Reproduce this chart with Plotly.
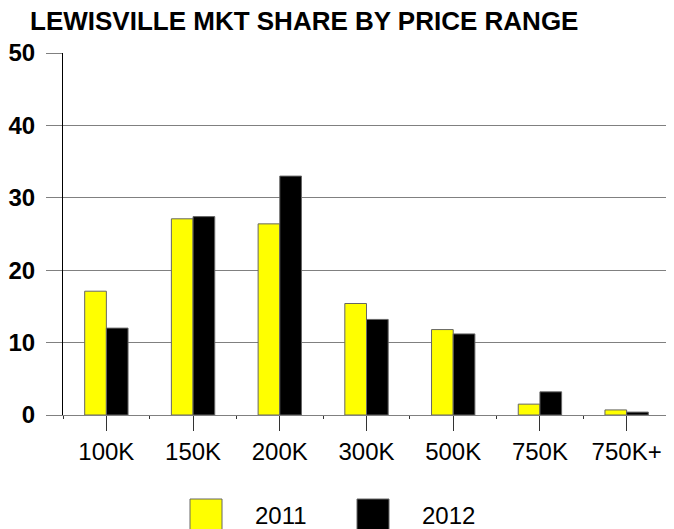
import plotly.graph_objects as go

categories = ["100K", "150K", "200K", "300K", "500K", "750K", "750K+"]
share_2011 = [17.1, 27.1, 26.4, 15.4, 11.8, 1.5, 0.7]
share_2012 = [12.0, 27.4, 33.0, 13.2, 11.2, 3.2, 0.4]
series_names = ["2011", "2012"]
y_ticks = [0, 10, 20, 30, 40, 50]

# page body has an 8px margin, so the figure is drawn 8px in from the window corner
OFF = 8
W, H = 674 - OFF, 529 - OFF
L, R, T, B = 63 - OFF, 4, 53 - OFF, 114
pw, ph = W - L - R, H - T - B


def px(x):
    # window pixel -> paper x
    return (x - OFF - L) / pw


def py(y):
    # window pixel -> paper y
    return (H - B - (y - OFF)) / ph


FONT = "Liberation Sans, Arial, sans-serif"

fig = go.Figure()
fig.add_trace(go.Bar(x=categories, y=share_2011, name=series_names[0],
                     marker=dict(color="#ffff00", line=dict(color="#666", width=1)),
                     showlegend=False))
fig.add_trace(go.Bar(x=categories, y=share_2012, name=series_names[1],
                     marker=dict(color="#000000", line=dict(color="#666", width=1)),
                     showlegend=False))
# invisible helper trace so the boundary (minor) ticks axis is drawn
fig.add_trace(go.Scatter(x=categories, y=share_2011, mode="none", xaxis="x2",
                         showlegend=False, hoverinfo="skip"))

fig.update_layout(
    width=W, height=H,
    margin=dict(l=L, r=R, t=T, b=B, autoexpand=False),
    paper_bgcolor="white", plot_bgcolor="white",
    font=dict(family=FONT, color="black"),
    barmode="group", bargap=0.5, bargroupgap=0,
    title=dict(text="LEWISVILLE MKT SHARE BY PRICE RANGE",
               font=dict(size=26, color="black", weight="bold"),
               xref="container", yref="container",
               x=(30 - OFF) / W, xanchor="left", y=1 - 4 / H, yanchor="top"),
    xaxis=dict(type="category", categoryorder="array", categoryarray=categories,
               range=[-0.5, 6.5],
               showline=True, linecolor="#808080", linewidth=1,
               ticks="outside", ticklen=15, tickcolor="#333", tickwidth=1,
               tickfont=dict(size=24), showgrid=False, zeroline=False),
    xaxis2=dict(type="category", categoryorder="array", categoryarray=categories,
                range=[-0.5, 6.5], overlaying="x", anchor="y", side="bottom",
                tickson="boundaries", ticks="outside", ticklen=3, tickcolor="#333",
                showticklabels=False, showgrid=False, zeroline=False, showline=False),
    yaxis=dict(range=[0, 50], tickvals=y_ticks, showgrid=True, gridcolor="#808080",
               gridwidth=1, showline=True, linecolor="black", linewidth=1,
               ticks="outside", ticklen=16, tickcolor="#808080",
               tickfont=dict(size=24, family=FONT, weight="bold"),
               ticklabelstandoff=6, zeroline=False),
)

# legend drawn by hand to get the large square swatches
swatches = [("#ffff00", 190, 253), ("#000000", 357, 420)]
for (color, sx, tx), name in zip(swatches, series_names):
    fig.add_shape(type="rect", xref="paper", yref="paper",
                  x0=px(sx), x1=px(sx + 32), y0=py(499), y1=py(531),
                  fillcolor=color, line=dict(color="#666", width=1))
    fig.add_annotation(text=name, xref="paper", yref="paper",
                       x=px(tx), y=py(515), xanchor="left", yanchor="middle",
                       showarrow=False, font=dict(size=24, color="black"))

fig.write_html("out.html")
